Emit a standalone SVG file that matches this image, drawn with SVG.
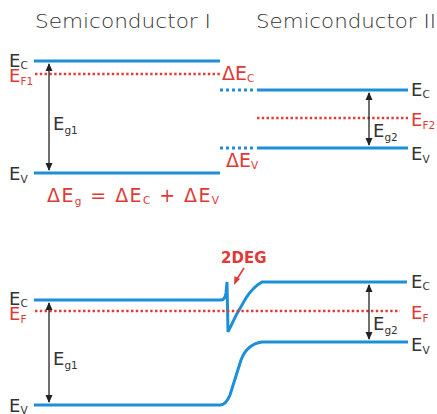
<svg xmlns="http://www.w3.org/2000/svg" width="437" height="414" viewBox="0 0 437 414">
<defs>
<style>
.band{fill:none;stroke:#1d8fd8;stroke-width:3;stroke-linecap:butt}
.bdot{fill:none;stroke:#1d8fd8;stroke-width:3;stroke-dasharray:3 3}
.fermi{fill:none;stroke:#e03a36;stroke-width:2.4;stroke-dasharray:2.4 2.4}
.gap{stroke:#222;stroke-width:1.3;marker-start:url(#ah);marker-end:url(#ah)}
.t{font-family:"DejaVu Sans","Liberation Sans",sans-serif;font-size:18px;fill:#333}
.r{fill:#e03a36}
.d{font-size:19px}
.title{font-family:"DejaVu Sans","Liberation Sans",sans-serif;font-size:19px;fill:#333;font-weight:300}
.sub{font-size:10.5px}
</style>
<marker id="ah" viewBox="0 0 8 8" refX="7" refY="4" markerWidth="8" markerHeight="8" orient="auto-start-reverse" markerUnits="userSpaceOnUse">
<path d="M0,0.5 L8,4 L0,7.5 Z" fill="#222"/>
</marker>
</defs>

<g id="titles">
<text class="title" x="35" y="28" textLength="176" lengthAdjust="spacingAndGlyphs">Semiconductor I</text>
<text class="title" x="256" y="28" textLength="180" lengthAdjust="spacingAndGlyphs">Semiconductor II</text>
</g>

<g id="semiconductor1">
<line class="band" x1="34" y1="61" x2="220" y2="61"/>
<line class="fermi" x1="35" y1="74" x2="220" y2="74"/>
<line class="band" x1="34" y1="173" x2="220" y2="173"/>
<line class="gap" x1="49" y1="64" x2="49" y2="170"/>
<text class="t" x="9" y="67">E<tspan class="sub" dy="2">C</tspan></text>
<text class="t r" x="9" y="82">E<tspan class="sub" dy="3">F1</tspan></text>
<text class="t" x="9" y="180">E<tspan class="sub" dy="3">V</tspan></text>
<text class="t" x="53" y="130">E<tspan class="sub" dy="4">g1</tspan></text>
</g>

<g id="offsets">
<line class="bdot" x1="220" y1="90" x2="254" y2="90"/>
<line class="bdot" x1="220" y1="148" x2="254" y2="148"/>
<text class="t r d" x="222" y="80">ΔE<tspan class="sub" dy="2">C</tspan></text>
<text class="t r d" x="226" y="167">ΔE<tspan class="sub" dy="2">V</tspan></text>
<text class="t r d" x="47" y="202" textLength="172" lengthAdjust="spacing">ΔE<tspan class="sub" dy="3">g</tspan><tspan dy="-3"> = ΔE</tspan><tspan class="sub" dy="2">C</tspan><tspan dy="-2"> + ΔE</tspan><tspan class="sub" dy="2">V</tspan></text>
</g>

<g id="semiconductor2">
<line class="band" x1="257" y1="90" x2="408" y2="90"/>
<line class="fermi" x1="257" y1="118" x2="408" y2="118"/>
<line class="band" x1="257" y1="148" x2="408" y2="148"/>
<line class="gap" x1="369" y1="93" x2="369" y2="145"/>
<text class="t" x="411" y="96">E<tspan class="sub" dy="2">C</tspan></text>
<text class="t r" x="411" y="126">E<tspan class="sub" dy="3">F2</tspan></text>
<text class="t" x="411" y="160">E<tspan class="sub" dy="3">V</tspan></text>
<text class="t" x="373" y="137">E<tspan class="sub" dy="4">g2</tspan></text>
</g>

<g id="heterojunction">
<path class="band" d="M34,300 L221,300 Q225,300 226,293 L227,282 L228,332 Q236,314 246,298 Q253,287 262,282 L407,282"/>
<line class="fermi" x1="35" y1="311" x2="400" y2="311"/>
<path class="band" d="M34,405 L220,405 Q226,405 230,395 Q236,376 241,360 Q247,344 262,342 L408,342"/>
<line class="gap" x1="49" y1="303" x2="49" y2="402"/>
<line class="gap" x1="369" y1="285" x2="369" y2="339"/>
<text class="t" x="9" y="305">E<tspan class="sub" dy="2">C</tspan></text>
<text class="t r" x="9" y="320">E<tspan class="sub" dy="3">F</tspan></text>
<text class="t" x="9" y="412">E<tspan class="sub" dy="2">V</tspan></text>
<text class="t" x="53" y="365">E<tspan class="sub" dy="4">g1</tspan></text>
<text class="t" x="411" y="288">E<tspan class="sub" dy="2">C</tspan></text>
<text class="t r" x="411" y="319">E<tspan class="sub" dy="3">F</tspan></text>
<text class="t" x="411" y="351">E<tspan class="sub" dy="3">V</tspan></text>
<text class="t" x="373" y="330">E<tspan class="sub" dy="4">g2</tspan></text>
</g>

<g id="twodeg">
<text x="221" y="263" font-family="'DejaVu Sans','Liberation Sans',sans-serif" font-size="15" font-weight="bold" fill="#e03a36">2DEG</text>
<line x1="244" y1="268" x2="237" y2="279" stroke="#e03a36" stroke-width="1.6"/>
<path d="M234,285 L234.5,276 L240,279 Z" fill="#e03a36"/>
</g>
</svg>
